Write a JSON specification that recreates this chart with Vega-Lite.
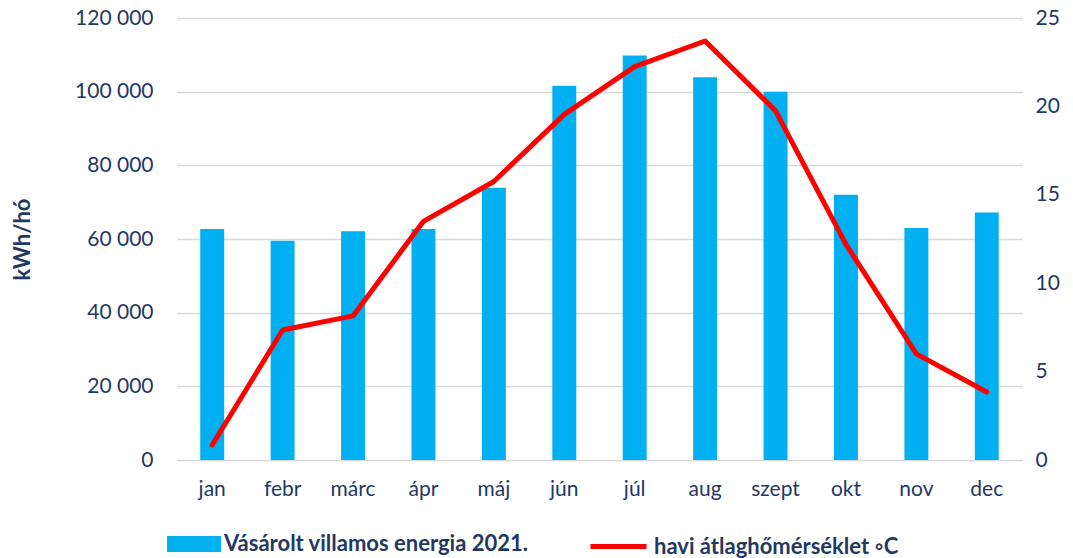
{
  "$schema": "https://vega.github.io/schema/vega-lite/v6.json",
  "width": 845,
  "height": 442,
  "autosize": "none",
  "padding": {"left": 177, "top": 18, "right": 51, "bottom": 98},
  "config": {
    "locale": {"number": {"decimal": ",", "thousands": " ", "grouping": [3], "currency": ["", ""]}},
    "view": {"stroke": null},
    "font": "Lato",
    "axis": {"labelFont": "Lato", "labelColor": "#1F3864", "labelFontSize": 21, "domain": false, "ticks": false, "gridColor": "#D9D9D9", "gridWidth": 1.5},
    "legend": {"labelFont": "Lato", "labelColor": "#1F3864", "labelFontSize": 22, "labelFontWeight": "bold", "labelLimit": 600}
  },
  "data": {"values": [
    {"month": "jan", "kwh": 62700, "temp": 0.85},
    {"month": "febr", "kwh": 59500, "temp": 7.35},
    {"month": "márc", "kwh": 62100, "temp": 8.15},
    {"month": "ápr", "kwh": 62700, "temp": 13.5},
    {"month": "máj", "kwh": 73900, "temp": 15.75},
    {"month": "jún", "kwh": 101600, "temp": 19.55},
    {"month": "júl", "kwh": 109800, "temp": 22.25},
    {"month": "aug", "kwh": 103900, "temp": 23.7},
    {"month": "szept", "kwh": 100000, "temp": 19.75},
    {"month": "okt", "kwh": 72000, "temp": 12.2},
    {"month": "nov", "kwh": 63000, "temp": 6.0},
    {"month": "dec", "kwh": 67200, "temp": 3.85}
  ]},
  "encoding": {
    "x": {"field": "month", "type": "nominal", "sort": null,
      "scale": {"paddingInner": 0.66, "paddingOuter": 0.33},
      "axis": {"title": null, "labelAngle": 0, "labelPadding": 18, "grid": false}}
  },
  "layer": [
    {
      "mark": {"type": "bar", "color": "#00B0F0"},
      "encoding": {
        "y": {"field": "kwh", "type": "quantitative",
          "scale": {"domain": [0, 120000]},
          "axis": {"title": "kWh/hó", "titleFont": "Lato", "titleFontSize": 22, "titleFontWeight": "bold", "titleColor": "#1F3864", "titlePadding": 40, "format": ",d", "values": [0, 20000, 40000, 60000, 80000, 100000, 120000], "labelPadding": 24, "grid": true}},
        "color": {"datum": "Vásárolt villamos energia 2021.", "type": "nominal",
          "scale": {"range": ["#00B0F0"]},
          "legend": {"title": null, "orient": "none", "legendX": -10, "legendY": 499, "symbolType": "M-1,-0.3H1V0.3H-1Z", "symbolSize": 2916, "symbolStrokeWidth": 0, "symbolOpacity": 1, "labelOffset": 3}}
      }
    },
    {
      "mark": {"type": "line", "color": "#FF0000", "strokeWidth": 5, "strokeJoin": "round", "strokeCap": "round"},
      "encoding": {
        "y": {"field": "temp", "type": "quantitative",
          "scale": {"domain": [0, 25]},
          "axis": {"orient": "right", "title": null, "values": [0, 5, 10, 15, 20, 25], "labelPadding": 13, "grid": false}},
        "stroke": {"datum": "havi átlaghőmérséklet ◦C", "type": "nominal",
          "scale": {"range": ["#FF0000"]},
          "legend": {"title": null, "orient": "none", "legendX": 411, "legendY": 498, "symbolType": "stroke", "symbolSize": 3136, "symbolStrokeWidth": 5, "labelOffset": 5}}
      }
    }
  ],
  "resolve": {"scale": {"y": "independent"}}
}
